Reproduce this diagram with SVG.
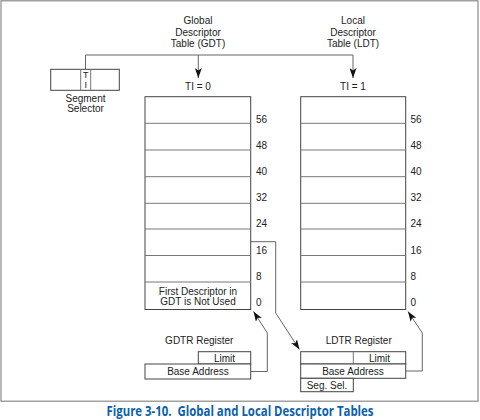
<svg xmlns="http://www.w3.org/2000/svg" width="480" height="420" viewBox="0 0 480 420">
<defs>
<marker id="arr" viewBox="0 0 10 7" refX="10" refY="3.5" markerWidth="10" markerHeight="7" markerUnits="userSpaceOnUse" orient="auto">
<path d="M0,0 L10,3.5 L0,7 L2.5,3.5 z" fill="#111"/>
</marker>
</defs>
<style>
.frame{fill:none;stroke:#8a8a8a;stroke-width:1.2}
.box{fill:#fff;stroke:#444;stroke-width:1}
.row{stroke:#777;stroke-width:1}
.con{fill:none;stroke:#666;stroke-width:1}
text{font-family:"Liberation Sans",Arial,sans-serif;font-size:10px;fill:#222}
.c{text-anchor:middle}
.cap{font-family:"Open Sans","Liberation Sans",sans-serif;font-weight:bold;font-size:13.5px;fill:#0a5fad;text-anchor:middle}
</style>
<rect class="frame" x="1" y="0.8" width="477" height="400.4"/>

<g id="connectors">
<path class="con" d="M85.5,69.3 V55 H353"/>
<path class="con" d="M198.3,55 V78" marker-end="url(#arr)"/>
<path class="con" d="M353,55 V78" marker-end="url(#arr)"/>
<path class="con" d="M250.7,241.7 H275.7 V313 L299.5,349.5" marker-end="url(#arr)"/>
<path class="con" d="M250.7,371.5 H267.3 V333 L253.5,311.5" marker-end="url(#arr)"/>
<path class="con" d="M405.7,371 H422.3 V333 L408,311.5" marker-end="url(#arr)"/>
</g>

<g id="gdt-title">
<text class="c" x="198" y="23.6">Global</text>
<text class="c" x="198" y="35.5">Descriptor</text>
<text class="c" x="198" y="47">Table (GDT)</text>
<text class="c" x="198" y="89.6">TI = 0</text>
</g>
<g id="ldt-title">
<text class="c" x="353" y="23.6">Local</text>
<text class="c" x="353" y="35.5">Descriptor</text>
<text class="c" x="353" y="47">Table (LDT)</text>
<text class="c" x="353" y="89.6">TI = 1</text>
</g>

<g id="segment-selector">
<rect class="box" x="50.7" y="69.3" width="68.6" height="21"/>
<line class="row" x1="80.7" y1="69.3" x2="80.7" y2="90.3"/>
<line class="row" x1="90.7" y1="69.3" x2="90.7" y2="90.3"/>
<text class="c" x="85.7" y="78" style="font-size:9px">T</text>
<text class="c" x="85.7" y="88" style="font-size:9px">I</text>
<text class="c" x="85.5" y="101.6">Segment</text>
<text class="c" x="85.5" y="112.3">Selector</text>
</g>

<g id="gdt">
<rect class="box" x="145" y="96.7" width="105.7" height="212.8"/>
<g class="row">
<line x1="145" y1="123.3" x2="250.7" y2="123.3"/>
<line x1="145" y1="150" x2="250.7" y2="150"/>
<line x1="145" y1="176.7" x2="250.7" y2="176.7"/>
<line x1="145" y1="203.3" x2="250.7" y2="203.3"/>
<line x1="145" y1="229" x2="250.7" y2="229"/>
<line x1="145" y1="255.5" x2="250.7" y2="255.5"/>
<line x1="145" y1="282" x2="250.7" y2="282"/>
</g>
<text class="c" x="198" y="295.3">First Descriptor in</text>
<text class="c" x="198" y="305.3">GDT is Not Used</text>
<text x="256" y="122.6">56</text>
<text x="256" y="149.3">48</text>
<text x="256" y="175.3">40</text>
<text x="256" y="201.3">32</text>
<text x="256" y="227.3">24</text>
<text x="256" y="253.6">16</text>
<text x="256" y="279.6">8</text>
<text x="256" y="305.6">0</text>
</g>

<g id="ldt">
<rect class="box" x="300.7" y="96.7" width="105" height="212.8"/>
<g class="row">
<line x1="300.7" y1="123.3" x2="405.7" y2="123.3"/>
<line x1="300.7" y1="150" x2="405.7" y2="150"/>
<line x1="300.7" y1="176.7" x2="405.7" y2="176.7"/>
<line x1="300.7" y1="203.3" x2="405.7" y2="203.3"/>
<line x1="300.7" y1="229" x2="405.7" y2="229"/>
<line x1="300.7" y1="255.5" x2="405.7" y2="255.5"/>
<line x1="300.7" y1="282" x2="405.7" y2="282"/>
</g>
<text x="410.5" y="122.6">56</text>
<text x="410.5" y="149.3">48</text>
<text x="410.5" y="175.3">40</text>
<text x="410.5" y="201.3">32</text>
<text x="410.5" y="227.3">24</text>
<text x="410.5" y="253.6">16</text>
<text x="410.5" y="279.6">8</text>
<text x="410.5" y="305.6">0</text>
</g>

<g id="gdtr">
<text class="c" x="199.3" y="344">GDTR Register</text>
<rect class="box" x="198.3" y="351.7" width="52.4" height="12.3"/>
<rect class="box" x="145" y="364" width="105.7" height="15"/>
<text class="c" x="224.5" y="362.3">Limit</text>
<text class="c" x="198" y="375.3">Base Address</text>
</g>

<g id="ldtr">
<text class="c" x="358.7" y="344">LDTR Register</text>
<rect class="box" x="300.7" y="351.7" width="105" height="12.3"/>
<line class="row" x1="353.3" y1="351.7" x2="353.3" y2="364"/>
<rect class="box" x="300.7" y="364" width="105" height="14.3"/>
<rect class="box" x="300.7" y="378.3" width="52.6" height="13.4"/>
<text class="c" x="379.5" y="362.3">Limit</text>
<text class="c" x="353" y="375">Base Address</text>
<text class="c" x="327" y="389">Seg. Sel.</text>
</g>

<text class="cap" x="240" y="415.5" textLength="267" lengthAdjust="spacingAndGlyphs">Figure 3-10.&#160; Global and Local Descriptor Tables</text>
</svg>
